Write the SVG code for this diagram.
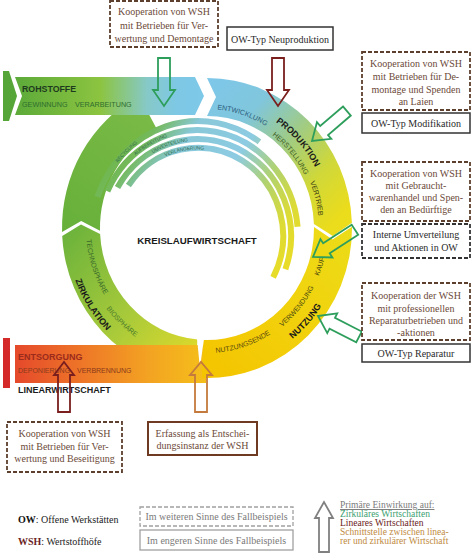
<svg xmlns="http://www.w3.org/2000/svg" width="474" height="556" viewBox="0 0 474 556">
<style>
.sf{font-family:"Liberation Serif","Times New Roman",serif;font-size:10px}
.c{text-anchor:middle}
.ss{font-family:"Liberation Sans",Arial,sans-serif}
.bd{fill:#fff;stroke:#5c3f2c;stroke-width:1.8;stroke-dasharray:4 2}
.bk{fill:#fff;stroke:#333;stroke-width:1.8;stroke-dasharray:4 2}
.bs{fill:#fff;stroke:#333;stroke-width:1.5}
.be{fill:#fff;stroke:#6e3b22;stroke-width:2}
.tb{fill:#6b4a38}
.tk{fill:#2a2a2a}
.ld{fill:#fff;stroke:#a0a0a0;stroke-width:1.3;stroke-dasharray:4 2}
.ls{fill:#fff;stroke:#a0a0a0;stroke-width:1.3}
.lt{fill:#7a7a7a}
.arr{fill:none;stroke-width:1.8}
.ag{stroke:#2e9e5c}.ar{stroke:#7a1e1e}.ao{stroke:#c47a3c}.ax{stroke:#808080}
.arc{fill:none;stroke:url(#gArc);stroke-width:6}
.al{font-size:4.8px;fill:#2d6b4a}
.rl{font-size:7px}
.rb{font-size:9px;font-weight:bold;fill:#1a1a1a}
</style>
<defs>
<linearGradient id="gRoh" gradientUnits="userSpaceOnUse" x1="15" y1="0" x2="204" y2="0">
<stop offset="0" stop-color="#5caa3a"/><stop offset="0.45" stop-color="#8cc440"/><stop offset="0.7" stop-color="#86c9c8"/><stop offset="0.86" stop-color="#7ec8e6"/><stop offset="1" stop-color="#7ec8e8"/>
</linearGradient>
<linearGradient id="gProd" gradientUnits="userSpaceOnUse" x1="205" y1="90" x2="345" y2="225">
<stop offset="0" stop-color="#7ec7e8"/><stop offset="0.25" stop-color="#80c6dc"/><stop offset="0.5" stop-color="#a2cc80"/><stop offset="0.72" stop-color="#cfd83a"/><stop offset="0.95" stop-color="#ebdc1c"/>
</linearGradient>
<linearGradient id="gNutz" gradientUnits="userSpaceOnUse" x1="350" y1="230" x2="210" y2="375">
<stop offset="0" stop-color="#ecdc18"/><stop offset="0.6" stop-color="#f2cf0a"/><stop offset="1" stop-color="#f4c400"/>
</linearGradient>
<linearGradient id="gZirk" gradientUnits="userSpaceOnUse" x1="60" y1="235" x2="190" y2="350">
<stop offset="0" stop-color="#6ab23c"/><stop offset="0.6" stop-color="#a8ca3a"/><stop offset="1" stop-color="#d9d82c"/>
</linearGradient>
<linearGradient id="gUL" gradientUnits="userSpaceOnUse" x1="60" y1="230" x2="150" y2="110">
<stop offset="0" stop-color="#66b03a"/><stop offset="1" stop-color="#7aba46"/>
</linearGradient>
<linearGradient id="gEnt" gradientUnits="userSpaceOnUse" x1="15" y1="0" x2="206" y2="0">
<stop offset="0" stop-color="#e5492b"/><stop offset="0.35" stop-color="#ee7628"/><stop offset="0.7" stop-color="#f3a322"/><stop offset="1" stop-color="#f5bf1a"/>
</linearGradient>
<linearGradient id="gArc" gradientUnits="userSpaceOnUse" x1="110" y1="130" x2="300" y2="270">
<stop offset="0" stop-color="#6ab33e"/><stop offset="0.15" stop-color="#74b95c"/><stop offset="0.28" stop-color="#88c8d8"/><stop offset="0.5" stop-color="#8ccbe2"/><stop offset="0.66" stop-color="#b0d270"/><stop offset="0.82" stop-color="#dcdb36"/><stop offset="1" stop-color="#eedc20"/>
</linearGradient>
<path id="p-entw" d="M191.1,110.2 A114 119 0 0 1 286.2,142.4"/>
<path id="p-prod" d="M254.5,109.9 A124 129 0 0 1 324.4,189.9"/>
<path id="p-hers" d="M252.3,123.2 A110 115 0 0 1 312.9,196.9"/>
<path id="p-vert" d="M299.2,161.6 A112 117 0 0 1 318.5,239.0"/>
<path id="p-kauf" d="M302.3,305.6 A121 126 0 0 0 327.9,224.3"/>
<path id="p-verw" d="M258.1,342.2 A121 126 0 0 0 323.9,260.6"/>
<path id="p-nutz" d="M259.4,359.2 A137 142 0 0 0 337.7,270.7"/>
<path id="p-ende" d="M192.4,352.1 A120 125 0 0 0 288.8,319.4"/>
<path id="p-tech" d="M86.7,214.2 A121 126 0 0 0 119.5,315.1"/>
<path id="p-zirk" d="M67.3,248.1 A141 146 0 0 0 132.1,351.7"/>
<path id="p-bio" d="M89.1,277.0 A127 132 0 0 0 167.3,353.4"/>
</defs>
<rect width="474" height="556" fill="#fff"/>

<g id="zirkulation">
<path d="M194.4,377.4 A145 150 0 0 1 62.2,235.9 L81.0,224.6 L100.1,233.9 A107 112 0 0 0 197.7,339.6 Z" fill="url(#gZirk)"/>
<path d="M62.05,231.9 L81.2,221.1 L100.0,230.8 A107 112 0 0 1 156.8,129.1 L138.9,95.6 A145 150 0 0 0 62.05,231.9 Z" fill="url(#gUL)"/>
<g class="ss">
<text class="rl" fill="#3a6a2a"><textPath href="#p-tech" startOffset="50%" text-anchor="middle">TECHNOSPHÄRE</textPath></text>
<text class="rb"><textPath href="#p-zirk" startOffset="50%" text-anchor="middle">ZIRKULATION</textPath></text>
<text class="rl" fill="#4a7a2a"><textPath href="#p-bio" startOffset="50%" text-anchor="middle">BIOSPHÄRE</textPath></text>
</g>
</g>

<g id="produktion">
<path d="M207,78 A145 150 0 0 1 351.9,222.8 L332.8,236.0 L313.9,224.1 A107 112 0 0 0 207,116 L216,97 Z" fill="url(#gProd)"/>
<g class="ss">
<text class="rl" fill="#2b5d7c"><textPath href="#p-entw" startOffset="50%" text-anchor="middle">ENTWICKLUNG</textPath></text>
<text class="rb"><textPath href="#p-prod" startOffset="50%" text-anchor="middle">PRODUKTION</textPath></text>
<text class="rl" fill="#3a5a20"><textPath href="#p-hers" startOffset="50%" text-anchor="middle">HERSTELLUNG</textPath></text>
<text class="rl" fill="#3a3a10"><textPath href="#p-vert" startOffset="50%" text-anchor="middle">VERTRIEB</textPath></text>
</g>
</g>

<g id="kreislaeufe">
<path id="arc-rec" class="arc" d="M97.5,196.7 A107 115 0 0 1 259.4,141.8"/>
<path id="arc-auf" class="arc" d="M107.4,191.2 A100 106 0 0 1 297.6,226.8"/>
<path id="arc-umv" class="arc" d="M117.5,187.5 A93 97 0 0 1 285.4,269.2"/>
<path id="arc-ver" class="arc" d="M128.4,185.5 A85 88 0 0 1 273.1,277.3"/>
<g class="ss al">
<text dy="1.7"><textPath href="#arc-rec" startOffset="40">RECYCLING</textPath></text>
<text dy="1.7"><textPath href="#arc-auf" startOffset="46">AUFBEREITUNG</textPath></text>
<text dy="1.7"><textPath href="#arc-umv" startOffset="50">UMVERTEILUNG</textPath></text>
<text dy="1.7"><textPath href="#arc-ver" startOffset="48">VERLÄNGERUNG</textPath></text>
</g>
</g>

<g id="rohstoffe">
<path d="M3,71 H9 L17,96 L9,121 H3 Z" fill="#56a538"/>
<path d="M15,77 H195 L204,96 L195,115 H15 L22,96 Z" fill="url(#gRoh)"/>
<text class="ss" x="22" y="92" font-size="8.8" font-weight="bold" fill="#1e3a1e">ROHSTOFFE</text>
<text class="ss" x="22" y="106.5" font-size="7.2" fill="#2e6e2e">GEWINNUNG</text>
<text class="ss" x="75" y="106.5" font-size="7.2" fill="#2e6e2e">VERARBEITUNG</text>
</g>

<g id="entsorgung">
<rect x="3" y="338" width="7" height="50" fill="#d42a2a"/>
<path d="M15,345 H206 V383 H15 Z" fill="url(#gEnt)"/>
<text class="ss" x="18" y="360" font-size="9" font-weight="bold" fill="#9b2b1b">ENTSORGUNG</text>
<text class="ss" x="18" y="373" font-size="7" fill="#8a3a1a">DEPONIERUNG</text>
<text class="ss" x="77" y="373" font-size="7" fill="#8a3a1a">VERBRENNUNG</text>
<text class="ss" x="18" y="393" font-size="9" font-weight="bold" fill="#1a1a1a">LINEARWIRTSCHAFT</text>
</g>

<g id="nutzung">
<path d="M352,226.7 A145 150 0 0 1 201.9,377.9 L203.3,339.9 A107 112 0 0 0 314,227.0 L332.5,239.4 Z" fill="url(#gNutz)"/>
<polygon points="197,338 204,338 200.5,364 199.5,364" fill="#fff"/>
<g class="ss">
<text class="rl" fill="#3a3a10"><textPath href="#p-kauf" startOffset="50%" text-anchor="middle">KAUF</textPath></text>
<text class="rl" fill="#4a4a10"><textPath href="#p-verw" startOffset="50%" text-anchor="middle">VERWENDUNG</textPath></text>
<text class="rb"><textPath href="#p-nutz" startOffset="50%" text-anchor="middle">NUTZUNG</textPath></text>
<text class="rl" fill="#5a4a10"><textPath href="#p-ende" startOffset="50%" text-anchor="middle">NUTZUNGSENDE</textPath></text>
</g>
</g>

<g id="kreislaufwirtschaft">
<text class="ss c" x="197" y="244" font-size="9.7" font-weight="bold" fill="#1a1a1a">KREISLAUFWIRTSCHAFT</text>
</g>

<g id="connectors">
<path class="arr ag" transform="translate(164,106)" d="M-6,-48H6V-16H11L0,0L-11,-16H-6Z"/>
<path class="arr ar" transform="translate(278,106)" d="M-6,-48H6V-16H11L0,0L-11,-16H-6Z"/>
<path class="arr ag" transform="translate(312,141) rotate(49.3)" d="M-6,-46H6V-16H11L0,0L-11,-16H-6Z"/>
<path class="arr ag" transform="translate(313,257) rotate(57)" d="M-6,-50H6V-16H11L0,0L-11,-16H-6Z"/>
<path class="arr ag" transform="translate(318,316) rotate(117)" d="M-6,-46H6V-16H11L0,0L-11,-16H-6Z"/>
<path class="arr ar" transform="translate(64,362) rotate(180)" d="M-6,-50H6V-13H10L0,0L-10,-13H-6Z"/>
<path class="arr ao" transform="translate(201,362) rotate(180)" d="M-6,-50H6V-13H11L0,0L-11,-13H-6Z"/>
</g>

<g id="box-wsh-demontage">
<rect class="bd" x="110" y="1" width="108" height="46"/>
<text class="sf c tb" x="164" y="15">Kooperation von WSH</text>
<text class="sf c tb" x="164" y="28.5">mit Betrieben für Ver-</text>
<text class="sf c tb" x="164" y="42">wertung und Demontage</text>
</g>
<g id="box-neuproduktion">
<rect class="bs" x="227" y="27" width="106" height="23"/>
<text class="sf c tk" x="280" y="42.5">OW-Typ Neuproduktion</text>
</g>
<g id="box-wsh-laien">
<rect class="bd" x="362" y="52" width="108" height="58"/>
<text class="sf c tb" x="416" y="66.5">Kooperation von WSH</text>
<text class="sf c tb" x="416" y="79.5">mit Betrieben für De-</text>
<text class="sf c tb" x="416" y="92.5">montage und Spenden</text>
<text class="sf c tb" x="416" y="104.5">an Laien</text>
</g>
<g id="box-modifikation">
<rect class="bs" x="362" y="113" width="108" height="20"/>
<text class="sf c tk" x="416" y="127">OW-Typ Modifikation</text>
</g>
<g id="box-wsh-gebraucht">
<rect class="bd" x="362" y="162" width="108" height="59"/>
<text class="sf c tb" x="416" y="176.5">Kooperation von WSH</text>
<text class="sf c tb" x="416" y="188.5">mit Gebraucht-</text>
<text class="sf c tb" x="416" y="200.5">warenhandel und Spen-</text>
<text class="sf c tb" x="416" y="212.5">den an Bedürftige</text>
</g>
<g id="box-umverteilung">
<rect class="bk" x="362" y="224" width="108" height="34"/>
<text class="sf c tk" x="416" y="237.5">Interne Umverteilung</text>
<text class="sf c tk" x="416" y="250.5">und Aktionen in OW</text>
</g>
<g id="box-wsh-reparatur">
<rect class="bd" x="362" y="283" width="108" height="57"/>
<text class="sf c tb" x="416" y="298.5">Kooperation der WSH</text>
<text class="sf c tb" x="416" y="311.5">mit professionellen</text>
<text class="sf c tb" x="416" y="323.5">Reparaturbetrieben und</text>
<text class="sf c tb" x="416" y="335.5">-aktionen</text>
</g>
<g id="box-reparatur">
<rect class="bs" x="362" y="344" width="108" height="18"/>
<text class="sf c tk" x="416" y="356.5">OW-Typ Reparatur</text>
</g>
<g id="box-wsh-beseitigung">
<rect class="bd" x="7" y="422" width="115" height="50"/>
<text class="sf c tb" x="64.5" y="436.5">Kooperation von WSH</text>
<text class="sf c tb" x="64.5" y="449.5">mit Betrieben für Ver-</text>
<text class="sf c tb" x="64.5" y="461.5">wertung und Beseitigung</text>
</g>
<g id="box-erfassung">
<rect class="be" x="148" y="422" width="109" height="33"/>
<text class="sf c tb" x="202.5" y="436.5">Erfassung als Entschei-</text>
<text class="sf c tb" x="202.5" y="448.5">dungsinstanz der WSH</text>
</g>

<g id="legende">
<text class="sf" x="18" y="523" fill="#222"><tspan font-weight="bold" fill="#111">OW</tspan>: Offene Werkstätten</text>
<text class="sf" x="18" y="545" fill="#222"><tspan font-weight="bold" fill="#6b1f1f">WSH</tspan>: Wertstoffhöfe</text>
<rect class="ld" x="140" y="507" width="153" height="19"/>
<text class="sf c lt" x="216.5" y="520">Im weiteren Sinne des Fallbeispiels</text>
<rect class="ls" x="140" y="530" width="153" height="20"/>
<text class="sf c lt" x="216.5" y="544">Im engeren Sinne des Fallbeispiels</text>
<path class="arr ax" transform="translate(324,502) rotate(180)" d="M-5,-50H5V-16H9L0,0L-9,-16H-5Z"/>
<g class="sf" style="font-size:9.5px">
<text x="340" y="508" fill="#7a7a7a" text-decoration="underline">Primäre Einwirkung auf:</text>
<text x="340" y="516.5" fill="#3aa070">Zirkuläres Wirtschaften</text>
<text x="340" y="525.5" fill="#6a1a1a">Lineares Wirtschaften</text>
<text x="340" y="534.5" fill="#c08a40">Schnittstelle zwischen linea-</text>
<text x="340" y="543.5" fill="#c08a40">rer und zirkulärer Wirtschaft</text>
</g>
</g>
</svg>
